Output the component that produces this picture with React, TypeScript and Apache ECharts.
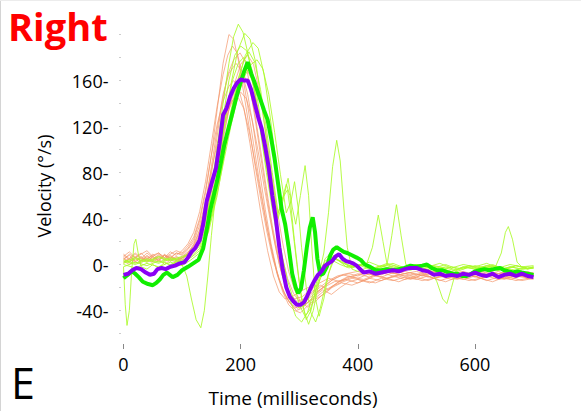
import React, { useEffect, useRef } from "react";
import * as echarts from "echarts";

// ---- data (time ms, velocity deg/s) ----
const yLabelValues = [-40, 0, 40, 80, 120, 160];

const meanPurple: number[][] = [
  [0,-9],[8,-8],[15,-5],[22,-3],[30,-4],[38,-7],[45,-9],[52,-8],[58,-4],[65,-3],[72,-4],[80,-2],[88,-1],[96,1],[104,2],[110,6],[116,11],[122,14],[130,21],[136,35],[142,55],[150,70],[158,84],[164,105],[170,130],[176,136],[182,146],[188,153],[194,158],[200,161],[206,160],[212,160],[218,152],[224,140],[230,128],[236,118],[242,102],[248,84],[254,60],[260,40],[266,15],[272,-5],[278,-20],[284,-28],[290,-32],[296,-35],[302,-35],[308,-33],[314,-27],[320,-20],[326,-14],[332,-9],[338,-6],[344,-1],[350,1],[356,3],[362,7],[368,9],[374,5],[380,3],[386,2],[392,1],[398,-1],[404,-4],[410,-7],[420,-6],[430,-8],[440,-7],[450,-6],[460,-5],[470,-6],[480,-4],[490,-3],[500,-3],[510,-5],[520,-6],[530,-9],[540,-8],[550,-10],[560,-9],[570,-10],[580,-8],[590,-9],[600,-7],[610,-9],[620,-10],[630,-8],[640,-11],[650,-9],[660,-8],[670,-10],[680,-8],[690,-10],[700,-11]
];

const meanGreen: number[][] = [
  [0,-12],[7,-9],[14,-6],[20,-8],[26,-11],[33,-15],[42,-17],[50,-18],[56,-16],[62,-13],[68,-9],[74,-7],[79,-9],[84,-11],[92,-9],[100,-5],[110,-2],[119,1],[128,4],[136,14],[142,30],[148,47],[154,60],[160,73],[166,88],[172,104],[180,120],[187,134],[193,146],[199,157],[206,168],[212,176],[218,166],[224,158],[232,146],[240,134],[246,126],[252,110],[258,92],[264,70],[270,48],[276,35],[282,15],[288,-8],[294,-20],[298,-25],[303,-21],[308,-5],[313,15],[318,32],[323,41],[327,28],[331,5],[336,-9],[341,-8],[347,-2],[353,8],[358,13],[364,15],[370,13],[376,11],[382,10],[390,8],[398,6],[405,4],[412,0],[421,-2],[430,-5],[440,-5],[450,-4],[460,-5],[470,-4],[480,-3],[490,-1],[500,-2],[510,-1],[518,0],[526,-3],[535,-5],[545,-5],[555,-7],[562,-8],[570,-8],[578,-10],[586,-10],[594,-8],[600,-6],[608,-5],[616,-4],[624,-5],[632,-4],[643,-3],[650,-5],[658,-6],[665,-7],[672,-6],[680,-7],[690,-8],[700,-9]
];

const orange1 = [[0,5],[10,8],[20,3],[30,7],[40,4],[50,9],[60,5],[70,8],[80,6],[90,10],[100,9],[110,14],[120,22],[130,38],[140,62],[150,95],[160,135],[170,175],[180,200],[188,196],[196,178],[205,150],[215,118],[225,85],[235,55],[245,28],[255,5],[265,-12],[275,-25],[285,-34],[295,-40],[305,-38],[315,-33],[330,-28],[345,-22],[360,-18],[375,-15],[390,-12],[410,-14],[430,-10],[450,-12],[470,-9],[490,-11],[510,-8],[530,-12],[550,-9],[570,-11],[590,-8],[610,-12],[630,-9],[650,-11],[670,-8],[690,-12],[700,-10]];
const orange2 = [[0,2],[12,6],[24,1],[36,5],[48,2],[60,7],[72,3],[84,6],[96,4],[108,9],[118,15],[128,26],[138,45],[148,72],[158,105],[168,140],[178,165],[188,178],[199,184],[208,176],[216,155],[226,122],[236,88],[246,55],[256,25],[266,0],[276,-18],[286,-30],[296,-36],[308,-33],[320,-26],[335,-20],[350,-14],[365,-10],[380,-8],[400,-6],[420,-9],[440,-5],[460,-8],[480,-6],[500,-9],[520,-5],[540,-8],[560,-6],[580,-10],[600,-7],[620,-9],[640,-6],[660,-10],[680,-7],[700,-9]];
const orange3 = [[0,8],[10,4],[20,9],[30,5],[40,10],[50,6],[60,3],[70,8],[80,4],[90,7],[100,5],[110,10],[120,18],[130,30],[140,52],[150,85],[160,118],[170,148],[180,166],[192,175],[202,168],[212,148],[222,118],[232,82],[242,48],[252,18],[262,-6],[272,-22],[282,-32],[292,-38],[302,-36],[315,-30],[330,-24],[345,-19],[360,-15],[380,-13],[400,-16],[420,-12],[440,-14],[460,-10],[480,-13],[500,-11],[520,-14],[540,-10],[560,-13],[580,-11],[600,-14],[620,-10],[640,-13],[660,-11],[680,-14],[700,-12]];
const orange4 = [[0,4],[10,9],[20,6],[30,10],[40,5],[50,8],[60,10],[70,6],[80,9],[90,12],[100,10],[110,16],[120,24],[130,40],[140,65],[150,95],[160,122],[170,142],[180,155],[188,160],[196,154],[206,135],[216,105],[226,72],[236,40],[246,12],[256,-10],[266,-24],[276,-30],[288,-28],[300,-24],[315,-20],[330,-24],[345,-18],[360,-12],[375,-9],[390,-11],[410,-7],[430,-10],[450,-6],[470,-9],[490,-7],[510,-10],[530,-6],[550,-9],[570,-7],[590,-10],[610,-6],[630,-9],[650,-7],[670,-10],[690,-6],[700,-8]];
const orange5 = [[0,3],[10,0],[20,5],[30,1],[40,6],[50,2],[60,5],[70,0],[80,4],[90,2],[100,6],[110,8],[120,12],[130,20],[140,36],[150,58],[160,85],[170,112],[180,135],[190,152],[200,165],[210,170],[220,160],[230,135],[240,100],[250,66],[260,35],[270,8],[280,-12],[290,-25],[300,-32],[312,-34],[325,-28],[340,-20],[355,-14],[370,-10],[385,-8],[400,-10],[420,-6],[440,-9],[460,-5],[480,-8],[500,-6],[520,-9],[540,-5],[560,-8],[580,-6],[600,-9],[620,-5],[640,-8],[660,-6],[680,-9],[700,-7]];
const orange6 = [[0,6],[10,2],[20,7],[30,3],[40,8],[50,4],[60,9],[70,5],[80,8],[90,4],[100,7],[110,11],[120,16],[130,26],[140,44],[150,68],[160,95],[170,118],[180,135],[190,146],[200,150],[210,144],[220,125],[230,98],[240,68],[250,40],[260,14],[270,-8],[280,-22],[292,-30],[305,-28],[320,-22],[335,-16],[350,-12],[370,-15],[390,-11],[410,-13],[430,-9],[450,-12],[470,-10],[490,-13],[510,-9],[530,-12],[550,-10],[570,-13],[590,-9],[610,-12],[630,-10],[650,-13],[670,-9],[690,-12],[700,-10]];
const orange7 = [[0,7],[10,11],[20,6],[30,9],[40,12],[50,7],[60,10],[70,6],[80,11],[90,8],[100,12],[110,18],[120,28],[130,46],[140,72],[150,105],[160,138],[170,165],[178,182],[186,190],[194,184],[203,165],[212,138],[222,105],[232,72],[242,42],[252,15],[262,-8],[272,-24],[282,-35],[292,-40],[302,-42],[314,-36],[328,-30],[342,-26],[356,-20],[372,-16],[390,-18],[410,-14],[430,-16],[450,-12],[470,-15],[490,-11],[510,-14],[530,-12],[550,-15],[570,-11],[590,-14],[610,-12],[630,-15],[650,-11],[670,-14],[690,-12],[700,-13]];
const orange8 = [[0,1],[10,5],[20,2],[30,6],[40,3],[50,7],[60,4],[70,8],[80,3],[90,6],[100,4],[110,9],[120,14],[130,24],[140,40],[150,64],[160,92],[170,118],[180,140],[190,155],[198,162],[205,165],[214,156],[224,132],[234,100],[244,66],[254,34],[264,8],[274,-14],[284,-26],[296,-32],[308,-30],[322,-24],[336,-18],[350,-22],[365,-16],[380,-12],[400,-8],[420,-11],[440,-7],[460,-10],[480,-8],[500,-11],[520,-7],[540,-10],[560,-8],[580,-11],[600,-7],[620,-10],[640,-8],[660,-11],[680,-7],[700,-9]];
const orange9 = [[0,5],[10,2],[20,6],[30,3],[40,7],[50,4],[60,8],[70,4],[80,7],[90,3],[100,6],[110,9],[120,13],[130,20],[140,32],[150,52],[160,78],[170,108],[180,135],[190,158],[200,174],[212,182],[222,174],[232,150],[242,118],[252,82],[262,48],[272,18],[282,-6],[292,-22],[302,-32],[314,-37],[328,-32],[342,-25],[356,-19],[370,-14],[385,-10],[400,-12],[420,-8],[440,-11],[460,-7],[480,-10],[500,-8],[520,-11],[540,-7],[560,-10],[580,-8],[600,-11],[620,-7],[640,-10],[660,-8],[680,-11],[700,-9]];
const orange10 = [[0,9],[10,5],[20,10],[30,6],[40,2],[50,7],[60,3],[70,9],[80,5],[90,10],[100,8],[110,13],[120,20],[130,34],[140,55],[150,82],[160,105],[170,124],[180,138],[188,144],[196,145],[205,136],[215,115],[225,88],[235,60],[245,32],[255,8],[265,-12],[275,-26],[285,-34],[297,-38],[310,-35],[325,-28],[340,-22],[355,-26],[370,-20],[385,-15],[400,-13],[420,-16],[440,-12],[460,-14],[480,-11],[500,-13],[520,-10],[540,-14],[560,-11],[580,-13],[600,-10],[620,-14],[640,-11],[660,-13],[680,-10],[700,-12]];

const lime1 = [[0,-2],[3,-35],[6,-53],[10,-40],[14,-5],[18,18],[21,22],[25,10],[30,-2],[40,-4],[50,0],[60,-3],[70,2],[80,-1],[90,3],[100,0],[108,-10],[116,-30],[124,-48],[132,-55],[138,-40],[144,-10],[150,25],[158,65],[166,100],[176,135],[186,160],[196,175],[205,180],[214,172],[224,150],[234,118],[244,85],[254,55],[262,40],[270,55],[278,70],[284,60],[292,20],[300,-15],[308,-40],[316,-52],[324,-40],[334,-15],[344,5],[354,10],[366,4],[380,-2],[400,0],[420,-4],[440,-1],[460,-5],[480,-2],[500,-4],[520,0],[540,-3],[560,-6],[580,-2],[600,-4],[620,-1],[640,-5],[660,-2],[680,-4],[700,-3]];
const lime2 = [[0,3],[20,0],[40,4],[60,1],[80,5],[100,2],[115,8],[130,20],[145,50],[158,95],[170,140],[180,175],[188,198],[196,209],[204,202],[214,180],[224,150],[234,115],[244,80],[254,48],[264,20],[274,-8],[284,-30],[294,-45],[304,-50],[314,-42],[324,-25],[334,-8],[342,10],[350,45],[357,85],[364,108],[370,90],[376,50],[382,15],[390,-4],[400,-6],[420,-2],[440,-5],[460,-1],[480,-4],[500,0],[520,-3],[540,-5],[560,-2],[580,-4],[600,-1],[620,-3],[640,-5],[660,-2],[680,-4],[700,-3]];
const lime3 = [[0,1],[20,5],[40,2],[60,6],[80,3],[100,6],[115,9],[130,16],[145,38],[160,80],[172,120],[184,158],[195,186],[207,201],[216,196],[226,175],[236,140],[246,100],[256,65],[264,40],[272,55],[281,75],[288,50],[294,35],[302,60],[310,86],[316,60],[322,10],[328,-30],[334,-45],[342,-30],[350,-8],[360,5],[372,3],[390,-2],[410,0],[430,-4],[450,-1],[470,-5],[490,-2],[510,-4],[530,-1],[550,-3],[570,-6],[590,-2],[610,-4],[630,-1],[650,-3],[670,-5],[690,-2],[700,-3]];
const lime4 = [[0,-2],[20,2],[40,-1],[60,3],[80,0],[100,4],[115,6],[130,12],[145,28],[160,60],[172,95],[184,130],[196,160],[208,182],[221,193],[230,188],[240,165],[250,130],[260,90],[270,50],[280,15],[290,-15],[300,-35],[310,-45],[320,-38],[330,-20],[342,-5],[355,4],[370,0],[385,-3],[400,-1],[415,0],[425,15],[435,43],[443,20],[450,0],[458,25],[466,52],[474,25],[482,0],[495,-3],[510,-1],[530,-4],[550,-2],[570,-5],[590,-1],[610,-4],[630,-2],[650,-5],[670,-1],[690,-4],[700,-2]];
const lime5 = [[0,0],[20,-3],[40,1],[60,-2],[80,2],[100,-1],[115,4],[130,10],[145,30],[160,65],[172,100],[184,135],[196,162],[206,178],[214,185],[224,176],[234,152],[244,118],[254,80],[264,45],[272,58],[280,65],[288,35],[296,0],[304,-30],[312,-48],[320,-40],[330,-18],[342,0],[356,6],[372,2],[390,-2],[410,1],[430,-3],[450,0],[470,-4],[490,-1],[510,-3],[525,-5],[535,-15],[545,-30],[552,-34],[560,-20],[568,-5],[580,-2],[600,-4],[620,-1],[635,-2],[645,10],[652,28],[657,33],[664,22],[672,2],[680,-2],[690,-4],[700,-3]];
const lime6 = [[0,4],[20,1],[40,5],[60,2],[80,6],[100,3],[115,7],[130,14],[145,32],[160,62],[172,92],[184,122],[196,148],[208,165],[218,174],[228,178],[238,170],[248,148],[258,115],[268,78],[278,45],[286,55],[292,72],[298,50],[304,15],[312,-20],[320,-42],[328,-50],[336,-38],[346,-15],[356,2],[368,8],[382,3],[400,-1],[420,2],[440,-2],[460,1],[480,-3],[500,0],[520,-2],[540,1],[560,-3],[580,0],[600,-2],[620,1],[640,-3],[660,0],[680,-2],[700,-1]];
const lime7 = [[0,2],[20,6],[40,3],[60,7],[80,4],[100,7],[115,10],[130,22],[145,48],[158,88],[170,128],[180,160],[190,182],[200,190],[210,186],[220,168],[230,140],[240,105],[250,70],[260,38],[270,10],[280,-14],[290,-30],[300,-38],[310,-35],[320,-22],[332,-8],[344,3],[358,7],[372,2],[390,-3],[410,0],[430,-3],[450,1],[470,-2],[490,-5],[510,-1],[530,-3],[550,0],[570,-4],[590,-1],[610,-3],[630,0],[650,-4],[670,-1],[690,-3],[700,-2]];

const orangeTrials = [orange1, orange2, orange3, orange4, orange5, orange6, orange7, orange8, orange9, orange10];
const limeTrials = [lime1, lime2, lime3, lime4, lime5, lime6, lime7];

const FONT = '"Open Sans", "DejaVu Sans", sans-serif';

export default function App() {
  const ref = useRef<HTMLDivElement>(null);
  useEffect(() => {
    if (!ref.current) return;
    const chart = echarts.init(ref.current, undefined, { renderer: "svg" });
    const thin = (data: number[][], color: string, name: string) => ({
      type: "line",
      name,
      data,
      showSymbol: false,
      symbol: "none",
      clip: false,
      silent: true,
      lineStyle: { width: 1, color },
    });
    const series: any[] = [];
    orangeTrials.forEach((d, i) => series.push(thin(d, "rgba(244,150,105,0.7)", "orange" + (i + 1))));
    limeTrials.forEach((d, i) => series.push(thin(d, "rgba(170,250,40,0.85)", "lime" + (i + 1))));
    series.push({
      type: "line", name: "green mean", data: meanGreen, showSymbol: false, symbol: "none", clip: false, silent: true,
      lineStyle: { width: 4, color: "#11ee00" },
    });
    series.push({
      type: "line", name: "purple mean", data: meanPurple, showSymbol: false, symbol: "none", clip: false, silent: true,
      lineStyle: { width: 4, color: "#8a00f5" },
    });

    chart.setOption({
      animation: false,
      backgroundColor: "#ffffff",
      // x scale 0..800 ms over 468.6 px (0.5857 px/ms); the 800 end lies beyond the canvas
      grid: { left: 123.5, top: 34.5, width: 468.6, height: 299, outerBoundsMode: "none", containLabel: false },
      xAxis: {
        type: "value",
        min: 0,
        max: 800,
        interval: 200,
        offset: 10.5,
        axisLine: { show: false, onZero: false },
        splitLine: { show: false },
        axisTick: { show: true, length: 5, lineStyle: { color: "#888", width: 1 } },
        axisLabel: {
          formatter: (v: number) => (v >= 800 ? "" : String(v)),
          margin: 11,
          color: "#000",
          fontSize: 18,
          fontFamily: FONT,
        },
      },
      yAxis: {
        type: "value",
        min: -60,
        max: 200,
        interval: 20,
        offset: 3,
        axisLine: { show: false, onZero: false },
        splitLine: { show: false },
        axisTick: { show: true, length: 1, lineStyle: { color: "#999", width: 1 } },
        axisLabel: {
          customValues: yLabelValues,
          formatter: (v: number) => v + "-",
          margin: 12,
          color: "#000",
          fontSize: 18,
          fontFamily: FONT,
        },
      },
      graphic: [
        { type: "line", shape: { x1: 0.5, y1: 0, x2: 0.5, y2: 411 }, style: { stroke: "#d4d4d4", lineWidth: 1 } },
        { type: "line", shape: { x1: 0, y1: 0.5, x2: 581, y2: 0.5 }, style: { stroke: "#ececec", lineWidth: 1 } },
        {
          type: "text", x: 8, y: 26,
          style: { text: "Right", fill: "#ff0000", fontSize: 38, fontWeight: "bold", fontFamily: FONT, lineHeight: 40, verticalAlign: "middle", textVerticalAlign: "middle" },
        },
        {
          type: "text", x: 11, y: 382.5,
          style: { text: "E", fill: "#000", fontSize: 43, fontFamily: FONT, verticalAlign: "middle", textVerticalAlign: "middle" },
        },
        {
          type: "text", x: 293, y: 398,
          style: { text: "Time (milliseconds)", fill: "#000", fontSize: 19, fontFamily: FONT, lineHeight: 20, align: "center", textAlign: "center", verticalAlign: "middle", textVerticalAlign: "middle" },
        },
        {
          type: "text", x: 44, y: 186, rotation: Math.PI / 2,
          style: { text: "Velocity (°/s)", fill: "#000", fontSize: 18, fontFamily: FONT, align: "center", textAlign: "center", verticalAlign: "middle", textVerticalAlign: "middle" },
        },
      ],
      series,
    });
    return () => chart.dispose();
  }, []);
  return (
    <div
      ref={ref}
      style={{ position: "fixed", left: 0, top: 0, width: 581, height: 411 }}
    />
  );
}
